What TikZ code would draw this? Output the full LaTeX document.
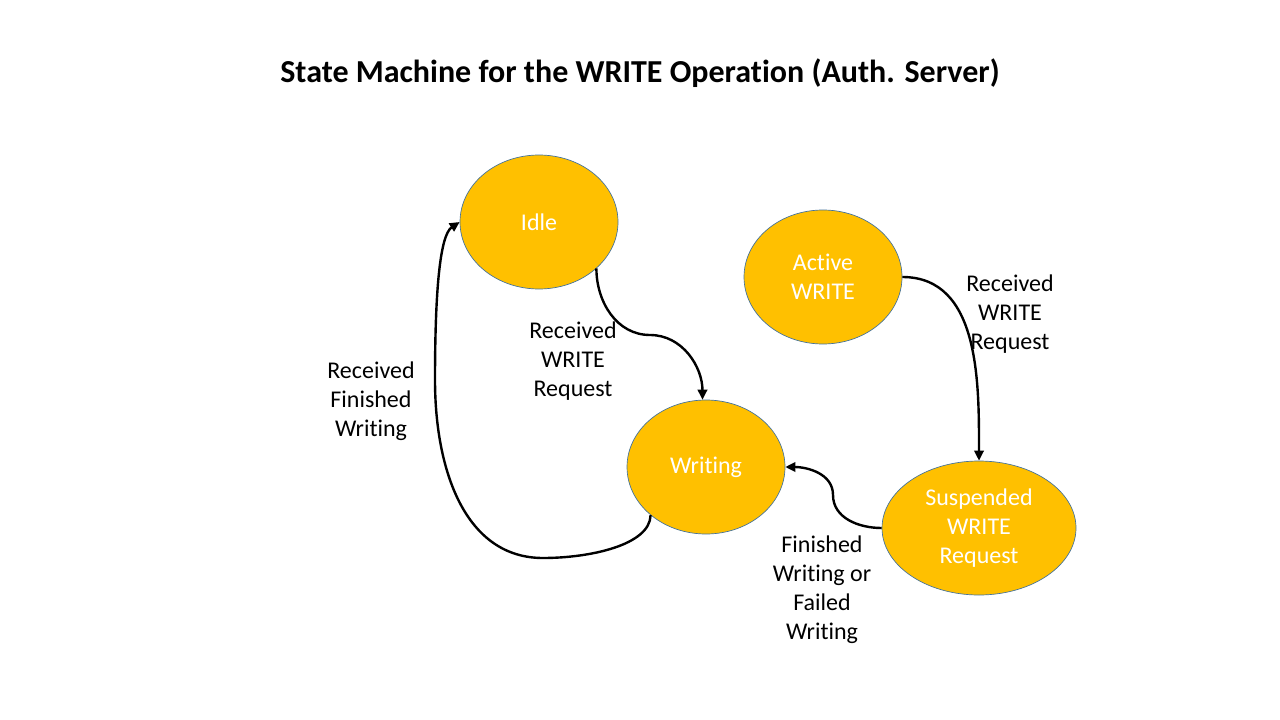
\documentclass[tikz,border=0pt]{standalone}
\usepackage{fontspec}
\setmainfont{Carlito}[Ligatures={NoCommon,NoContextual,NoRare,NoRequired}]
\usetikzlibrary{shapes, arrows.meta}

\definecolor{stategold}{HTML}{FFC000}
\definecolor{stateedge}{HTML}{41719C}

\begin{document}
\begin{tikzpicture}[x=0.75pt, y=-0.75pt,
    state/.style={draw=stateedge, line width=0.5pt, ellipse, fill=stategold, text=white,
        inner sep=0pt, minimum width=118.5pt, minimum height=100.5pt, align=center,
        font=\fontsize{18}{21.75}\selectfont},
    trans/.style={-{Triangle[length=7.5pt, width=7pt]}, line width=1.8pt, black},
    lbl/.style={align=center, font=\fontsize{18}{21.75}\selectfont}]
    \useasboundingbox (0,0) rectangle (1280,720);

    % Title
    \node[font=\fontsize{24}{28}\selectfont\bfseries] (Title) at (640,73) {State Machine for the WRITE Operation (Auth. Server)};

    % States
    \node[state] (Idle) at (539,222) {Idle};
    \node[state] (Active) at (823,277) {Active\\WRITE};
    \node[state] (Writing) at (706,467) {\raisebox{-1.5pt}{Writing}};
    \node[state, minimum width=145.5pt] (Susp) at (979,528) {Suspended\\WRITE\\Request};

    % Transitions
    \draw[trans] (Idle.-39) to[out=-90, in=180] (650,335) to[out=0, in=90] (Writing.93);
    \draw[trans] (Writing.-139) .. controls (650,545) and (590,558) .. (543,558)
        .. controls (465,558) and (435,470) .. (435,380)
        .. controls (435,290) and (440,235) .. (Idle.west);
    \draw[trans] (Active.east) to[out=0, in=90] (Susp.north);
    \draw[trans] (Susp.west) to[out=180, in=-90] (833,495) to[out=90, in=0] (Writing.east);

    % Labels
    \node[lbl] (LblA) at (573,361) {Received\\WRITE\\Request};
    \node[lbl] (LblB) at (371,401) {Received\\Finished\\Writing};
    \node[lbl] (LblC) at (1010,314) {Received\\WRITE\\Request};
    \node[lbl] (LblD) at (822,590) {Finished\\Writing or\\Failed\\Writing};
\end{tikzpicture}
\end{document}
